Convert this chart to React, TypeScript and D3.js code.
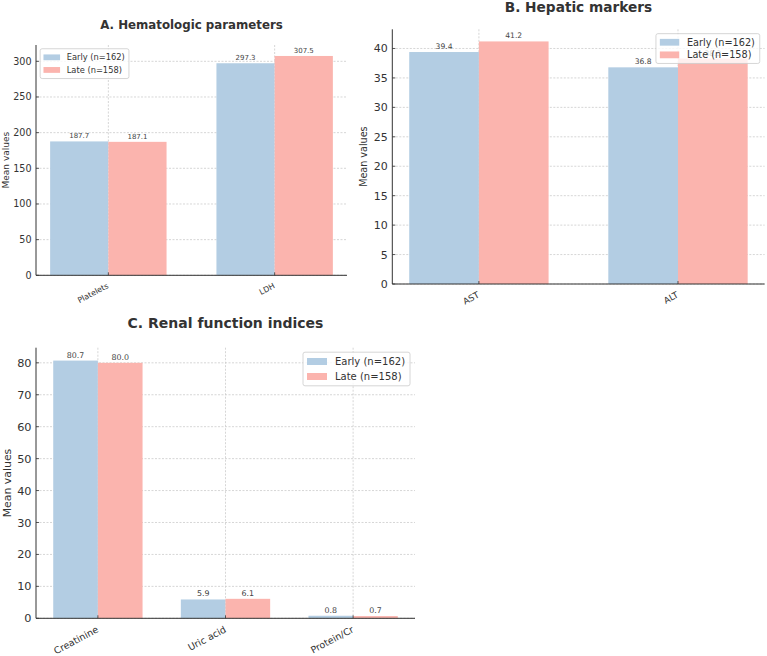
import React from "react";
import * as d3 from "d3";

const SERIES = ["Early (n=162)", "Late (n=158)"];
const SERIES_COLORS = ["#b3cde3", "#fbb4ae"];

const hemaCategories = ["Platelets", "LDH"];
const hemaEarly = [187.7, 297.3];
const hemaLate = [187.1, 307.5];
const hemaTicks = [0, 50, 100, 150, 200, 250, 300];

const hepaticCategories = ["AST", "ALT"];
const hepaticEarly = [39.4, 36.8];
const hepaticLate = [41.2, 38.3];
const hepaticTicks = [0, 5, 10, 15, 20, 25, 30, 35, 40];

const renalCategories = ["Creatinine", "Uric acid", "Protein/Cr"];
const renalEarly = [80.7, 5.9, 0.8];
const renalLate = [80.0, 6.1, 0.7];
const renalTicks = [0, 10, 20, 30, 40, 50, 60, 70, 80];

const FONT = "'DejaVu Sans', Verdana, sans-serif";
const TEXT = "#333333";
const GRID = "#cccccc";
const BAR_W = 0.35;

type PanelProps = {
  title: string;
  categories: string[];
  early: number[];
  late: number[];
  ticks: number[];
  box: { x0: number; x1: number; top: number; base: number };
  fonts: { title: number; tick: number; label: number; legend: number; value: number; xtick: number };
  titleY: number;
  yLabelX: number;
  legend: { side: "left" | "right"; pad: number; row: number };
};

function Panel(p: PanelProps) {
  const n = p.categories.length;
  const lo = -BAR_W;
  const hi = n - 1 + BAR_W;
  const margin = 0.05 * (hi - lo);
  const x = d3.scaleLinear().domain([lo - margin, hi + margin]).range([p.box.x0, p.box.x1]);
  const yMax = d3.max([...p.early, ...p.late]) as number;
  const y = d3.scaleLinear().domain([0, yMax * 1.05]).range([p.box.base, p.box.top]);
  const series = [p.early, p.late];

  const f = p.fonts.legend;
  const handleW = 2 * f;
  const textW = 7.0 * f;
  const legW = 0.4 * f + handleW + 0.8 * f + textW + 0.5 * f;
  const legH = 2 * p.legend.pad + p.legend.row;
  const legX = p.legend.side === "left" ? p.box.x0 + 0.5 * f : p.box.x1 - 0.5 * f - legW;
  const legY = p.box.top + 0.45 * f;

  return (
    <g fontFamily={FONT}>
      {/* grid */}
      {p.ticks.map((t) => (
        <line key={"gy" + t} x1={p.box.x0} x2={p.box.x1} y1={y(t)} y2={y(t)}
          stroke={GRID} strokeWidth={0.8} strokeDasharray="2,1.5" />
      ))}
      {p.categories.map((c, i) => (
        <line key={"gx" + c} x1={x(i)} x2={x(i)} y1={p.box.top} y2={p.box.base}
          stroke={GRID} strokeWidth={0.8} strokeDasharray="2,1.5" />
      ))}

      {/* bars */}
      {series.map((vals, s) =>
        vals.map((v, i) => {
          const left = s === 0 ? i - BAR_W : i;
          return (
            <rect key={"b" + s + "-" + i} x={x(left)} width={x(left + BAR_W) - x(left)}
              y={y(v)} height={y(0) - y(v)} fill={SERIES_COLORS[s]} />
          );
        })
      )}

      {/* value labels */}
      {series.map((vals, s) =>
        vals.map((v, i) => {
          const cx = s === 0 ? i - BAR_W / 2 : i + BAR_W / 2;
          return (
            <text key={"v" + s + "-" + i} x={x(cx)} y={y(v) - 3} textAnchor="middle"
              fontSize={p.fonts.value} fill="#444">{v.toFixed(1)}</text>
          );
        })
      )}

      {/* spines */}
      <line x1={p.box.x0} x2={p.box.x0} y1={p.box.top} y2={p.box.base} stroke={TEXT} strokeWidth={1} />
      <line x1={p.box.x0} x2={p.box.x1} y1={p.box.base} y2={p.box.base} stroke={TEXT} strokeWidth={1} />

      {/* y ticks */}
      {p.ticks.map((t) => (
        <g key={"yt" + t}>
          <line x1={p.box.x0} x2={p.box.x0 + 3} y1={y(t)} y2={y(t)} stroke={TEXT} strokeWidth={0.8} />
          <text x={p.box.x0 - 4.5} y={y(t)} dy="0.36em" textAnchor="end" fontSize={p.fonts.tick} fill={TEXT}>{t}</text>
        </g>
      ))}

      {/* x ticks */}
      {p.categories.map((c, i) => (
        <g key={"xt" + c}>
          <line x1={x(i)} x2={x(i)} y1={p.box.base} y2={p.box.base - 3} stroke={TEXT} strokeWidth={0.8} />
          <text transform={`translate(${x(i) - 2},${p.box.base + 7}) rotate(-28)`} dy="0.75em"
            textAnchor="end" fontSize={p.fonts.xtick} fill={TEXT}>{c}</text>
        </g>
      ))}

      {/* axis label */}
      <text transform={`translate(${p.yLabelX},${(p.box.top + p.box.base) / 2}) rotate(-90)`}
        textAnchor="middle" dominantBaseline="central" fontSize={p.fonts.label} fill={TEXT}>Mean values</text>

      {/* title */}
      <text x={(p.box.x0 + p.box.x1) / 2} y={p.titleY} textAnchor="middle" fontWeight="bold"
        fontSize={p.fonts.title} fill={TEXT}>{p.title}</text>

      {/* legend */}
      <g>
        <rect x={legX} y={legY} width={legW} height={legH} rx={2} fill="#ffffff" fillOpacity={0.8}
          stroke="#cccccc" strokeWidth={0.8} />
        {SERIES.map((name, s) => {
          const cy = legY + p.legend.pad + p.legend.row * s;
          return (
            <g key={"l" + s}>
              <rect x={legX + 0.4 * f} y={cy - 0.35 * f} width={handleW} height={0.7 * f} fill={SERIES_COLORS[s]} />
              <text x={legX + 0.4 * f + handleW + 0.8 * f} y={cy} dy="0.36em" fontSize={f} fill={TEXT}>{name}</text>
            </g>
          );
        })}
      </g>
    </g>
  );
}

export default function App() {
  return (
    <svg width={767} height={656} style={{ position: "absolute", left: 0, top: 0, background: "#fff" }}>
      <rect width={767} height={656} fill="#fff" />
      <Panel
        title="A. Hematologic parameters"
        categories={hemaCategories}
        early={hemaEarly}
        late={hemaLate}
        ticks={hemaTicks}
        box={{ x0: 36, x1: 347, top: 45, base: 275.3 }}
        fonts={{ title: 11.8, tick: 9.6, label: 9, legend: 8.3, value: 7, xtick: 7.8 }}
        titleY={29}
        yLabelX={6}
        legend={{ side: "left", pad: 8.6, row: 12.6 }}
      />
      <Panel
        title="B. Hepatic markers"
        categories={hepaticCategories}
        early={hepaticEarly}
        late={hepaticLate}
        ticks={hepaticTicks}
        box={{ x0: 392.3, x1: 764.6, top: 29.3, base: 284 }}
        fonts={{ title: 13.7, tick: 11, label: 9.6, legend: 9.7, value: 7.6, xtick: 8.8 }}
        titleY={11.7}
        yLabelX={363.3}
        legend={{ side: "right", pad: 8.6, row: 12.6 }}
      />
      <Panel
        title="C. Renal function indices"
        categories={renalCategories}
        early={renalEarly}
        late={renalLate}
        ticks={renalTicks}
        box={{ x0: 36, x1: 415, top: 347.7, base: 618.3 }}
        fonts={{ title: 14, tick: 11.3, label: 10.9, legend: 10, value: 7.9, xtick: 9.5 }}
        titleY={328.3}
        yLabelX={7.3}
        legend={{ side: "right", pad: 9.3, row: 15 }}
      />
    </svg>
  );
}
